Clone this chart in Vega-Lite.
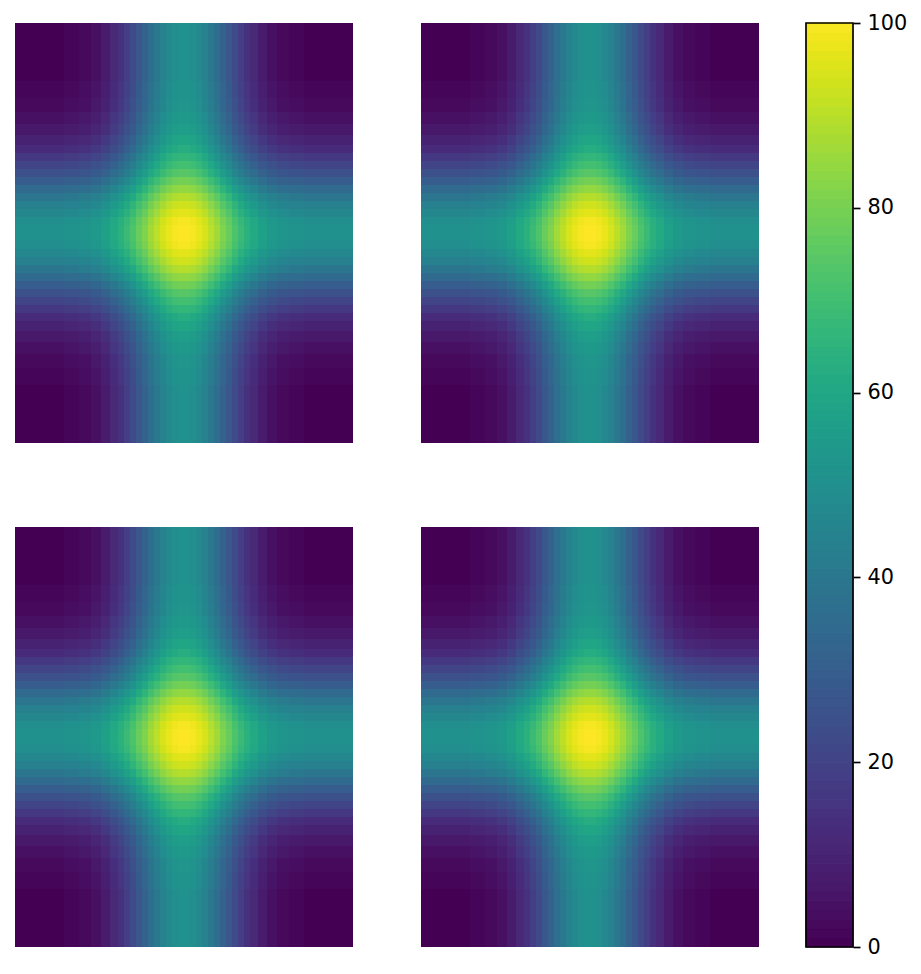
{"$schema":"https://vega.github.io/schema/vega-lite/v6.json","padding":{"left":15,"top":12,"right":0,"bottom":0},"background":"white","config":{"view":{"stroke":null},"font":"DejaVu Sans"},
"datasets":{
"cols":[{"i":0,"x":-169,"x2":-120},{"i":1,"x":-120,"x2":-105},{"i":2,"x":-105,"x2":-93},{"i":3,"x":-93,"x2":-83},{"i":4,"x":-83,"x2":-74},{"i":5,"x":-74,"x2":-66},{"i":6,"x":-66,"x2":-60},{"i":7,"x":-60,"x2":-54},{"i":8,"x":-54,"x2":-48},{"i":9,"x":-48,"x2":-42},{"i":10,"x":-42,"x2":-36},{"i":11,"x":-36,"x2":-30},{"i":12,"x":-30,"x2":-24},{"i":13,"x":-24,"x2":-18},{"i":14,"x":-18,"x2":-12},{"i":15,"x":-12,"x2":-6},{"i":16,"x":-6,"x2":0},{"i":17,"x":0,"x2":6},{"i":18,"x":6,"x2":12},{"i":19,"x":12,"x2":18},{"i":20,"x":18,"x2":24},{"i":21,"x":24,"x2":30},{"i":22,"x":30,"x2":36},{"i":23,"x":36,"x2":42},{"i":24,"x":42,"x2":48},{"i":25,"x":48,"x2":54},{"i":26,"x":54,"x2":60},{"i":27,"x":60,"x2":66},{"i":28,"x":66,"x2":74},{"i":29,"x":74,"x2":83},{"i":30,"x":83,"x2":93},{"i":31,"x":93,"x2":105},{"i":32,"x":105,"x2":120},{"i":33,"x":120,"x2":169}],
"rows":[{"j":0,"y":-210,"y2":-152},{"j":1,"y":-152,"y2":-135},{"j":2,"y":-135,"y2":-121},{"j":3,"y":-121,"y2":-109},{"j":4,"y":-109,"y2":-98},{"j":5,"y":-98,"y2":-88},{"j":6,"y":-88,"y2":-80},{"j":7,"y":-80,"y2":-72},{"j":8,"y":-72,"y2":-64},{"j":9,"y":-64,"y2":-56},{"j":10,"y":-56,"y2":-48},{"j":11,"y":-48,"y2":-40},{"j":12,"y":-40,"y2":-32},{"j":13,"y":-32,"y2":-24},{"j":14,"y":-24,"y2":-16},{"j":15,"y":-16,"y2":-8},{"j":16,"y":-8,"y2":0},{"j":17,"y":0,"y2":8},{"j":18,"y":8,"y2":16},{"j":19,"y":16,"y2":24},{"j":20,"y":24,"y2":32},{"j":21,"y":32,"y2":40},{"j":22,"y":40,"y2":48},{"j":23,"y":48,"y2":56},{"j":24,"y":56,"y2":64},{"j":25,"y":64,"y2":72},{"j":26,"y":72,"y2":80},{"j":27,"y":80,"y2":88},{"j":28,"y":88,"y2":98},{"j":29,"y":98,"y2":109},{"j":30,"y":109,"y2":121},{"j":31,"y":121,"y2":135},{"j":32,"y":135,"y2":152},{"j":33,"y":152,"y2":210}],
"grid":[
{"i":0,"j":0,"v":0},{"i":1,"j":0,"v":1},{"i":2,"j":0,"v":2},{"i":3,"j":0,"v":4},{"i":4,"j":0,"v":7},{"i":5,"j":0,"v":11},{"i":6,"j":0,"v":14},{"i":7,"j":0,"v":18},{"i":8,"j":0,"v":22},{"i":9,"j":0,"v":27},{"i":10,"j":0,"v":31},{"i":11,"j":0,"v":36},{"i":12,"j":0,"v":40},{"i":13,"j":0,"v":44},{"i":14,"j":0,"v":47},{"i":15,"j":0,"v":49},{"i":16,"j":0,"v":50},{"i":17,"j":0,"v":50},{"i":18,"j":0,"v":49},{"i":19,"j":0,"v":47},{"i":20,"j":0,"v":44},{"i":21,"j":0,"v":40},{"i":22,"j":0,"v":36},{"i":23,"j":0,"v":31},{"i":24,"j":0,"v":27},{"i":25,"j":0,"v":22},{"i":26,"j":0,"v":18},{"i":27,"j":0,"v":14},{"i":28,"j":0,"v":11},{"i":29,"j":0,"v":7},{"i":30,"j":0,"v":4},{"i":31,"j":0,"v":2},{"i":32,"j":0,"v":1},{"i":33,"j":0,"v":0},
{"i":0,"j":1,"v":1},{"i":1,"j":1,"v":2},{"i":2,"j":1,"v":3},{"i":3,"j":1,"v":5},{"i":4,"j":1,"v":8},{"i":5,"j":1,"v":12},{"i":6,"j":1,"v":15},{"i":7,"j":1,"v":19},{"i":8,"j":1,"v":23},{"i":9,"j":1,"v":28},{"i":10,"j":1,"v":32},{"i":11,"j":1,"v":37},{"i":12,"j":1,"v":41},{"i":13,"j":1,"v":45},{"i":14,"j":1,"v":48},{"i":15,"j":1,"v":50},{"i":16,"j":1,"v":51},{"i":17,"j":1,"v":51},{"i":18,"j":1,"v":50},{"i":19,"j":1,"v":48},{"i":20,"j":1,"v":45},{"i":21,"j":1,"v":41},{"i":22,"j":1,"v":37},{"i":23,"j":1,"v":32},{"i":24,"j":1,"v":28},{"i":25,"j":1,"v":23},{"i":26,"j":1,"v":19},{"i":27,"j":1,"v":15},{"i":28,"j":1,"v":12},{"i":29,"j":1,"v":8},{"i":30,"j":1,"v":5},{"i":31,"j":1,"v":3},{"i":32,"j":1,"v":2},{"i":33,"j":1,"v":1},
{"i":0,"j":2,"v":2},{"i":1,"j":2,"v":3},{"i":2,"j":2,"v":4},{"i":3,"j":2,"v":6},{"i":4,"j":2,"v":9},{"i":5,"j":2,"v":13},{"i":6,"j":2,"v":16},{"i":7,"j":2,"v":20},{"i":8,"j":2,"v":24},{"i":9,"j":2,"v":29},{"i":10,"j":2,"v":33},{"i":11,"j":2,"v":38},{"i":12,"j":2,"v":42},{"i":13,"j":2,"v":46},{"i":14,"j":2,"v":49},{"i":15,"j":2,"v":51},{"i":16,"j":2,"v":52},{"i":17,"j":2,"v":52},{"i":18,"j":2,"v":51},{"i":19,"j":2,"v":49},{"i":20,"j":2,"v":46},{"i":21,"j":2,"v":42},{"i":22,"j":2,"v":38},{"i":23,"j":2,"v":33},{"i":24,"j":2,"v":29},{"i":25,"j":2,"v":24},{"i":26,"j":2,"v":20},{"i":27,"j":2,"v":16},{"i":28,"j":2,"v":13},{"i":29,"j":2,"v":9},{"i":30,"j":2,"v":6},{"i":31,"j":2,"v":4},{"i":32,"j":2,"v":3},{"i":33,"j":2,"v":2},
{"i":0,"j":3,"v":4},{"i":1,"j":3,"v":5},{"i":2,"j":3,"v":6},{"i":3,"j":3,"v":8},{"i":4,"j":3,"v":11},{"i":5,"j":3,"v":15},{"i":6,"j":3,"v":18},{"i":7,"j":3,"v":22},{"i":8,"j":3,"v":26},{"i":9,"j":3,"v":31},{"i":10,"j":3,"v":35},{"i":11,"j":3,"v":40},{"i":12,"j":3,"v":44},{"i":13,"j":3,"v":48},{"i":14,"j":3,"v":51},{"i":15,"j":3,"v":53},{"i":16,"j":3,"v":54},{"i":17,"j":3,"v":54},{"i":18,"j":3,"v":53},{"i":19,"j":3,"v":51},{"i":20,"j":3,"v":48},{"i":21,"j":3,"v":44},{"i":22,"j":3,"v":40},{"i":23,"j":3,"v":35},{"i":24,"j":3,"v":31},{"i":25,"j":3,"v":26},{"i":26,"j":3,"v":22},{"i":27,"j":3,"v":18},{"i":28,"j":3,"v":15},{"i":29,"j":3,"v":11},{"i":30,"j":3,"v":8},{"i":31,"j":3,"v":6},{"i":32,"j":3,"v":5},{"i":33,"j":3,"v":4},
{"i":0,"j":4,"v":6},{"i":1,"j":4,"v":7},{"i":2,"j":4,"v":8},{"i":3,"j":4,"v":10},{"i":4,"j":4,"v":13},{"i":5,"j":4,"v":17},{"i":6,"j":4,"v":20},{"i":7,"j":4,"v":24},{"i":8,"j":4,"v":28},{"i":9,"j":4,"v":33},{"i":10,"j":4,"v":37},{"i":11,"j":4,"v":42},{"i":12,"j":4,"v":46},{"i":13,"j":4,"v":50},{"i":14,"j":4,"v":53},{"i":15,"j":4,"v":55},{"i":16,"j":4,"v":56},{"i":17,"j":4,"v":56},{"i":18,"j":4,"v":55},{"i":19,"j":4,"v":53},{"i":20,"j":4,"v":50},{"i":21,"j":4,"v":46},{"i":22,"j":4,"v":42},{"i":23,"j":4,"v":37},{"i":24,"j":4,"v":33},{"i":25,"j":4,"v":28},{"i":26,"j":4,"v":24},{"i":27,"j":4,"v":20},{"i":28,"j":4,"v":17},{"i":29,"j":4,"v":13},{"i":30,"j":4,"v":10},{"i":31,"j":4,"v":8},{"i":32,"j":4,"v":7},{"i":33,"j":4,"v":6},
{"i":0,"j":5,"v":9},{"i":1,"j":5,"v":10},{"i":2,"j":5,"v":11},{"i":3,"j":5,"v":13},{"i":4,"j":5,"v":16},{"i":5,"j":5,"v":20},{"i":6,"j":5,"v":23},{"i":7,"j":5,"v":27},{"i":8,"j":5,"v":31},{"i":9,"j":5,"v":36},{"i":10,"j":5,"v":40},{"i":11,"j":5,"v":45},{"i":12,"j":5,"v":49},{"i":13,"j":5,"v":53},{"i":14,"j":5,"v":56},{"i":15,"j":5,"v":58},{"i":16,"j":5,"v":59},{"i":17,"j":5,"v":59},{"i":18,"j":5,"v":58},{"i":19,"j":5,"v":56},{"i":20,"j":5,"v":53},{"i":21,"j":5,"v":49},{"i":22,"j":5,"v":45},{"i":23,"j":5,"v":40},{"i":24,"j":5,"v":36},{"i":25,"j":5,"v":31},{"i":26,"j":5,"v":27},{"i":27,"j":5,"v":23},{"i":28,"j":5,"v":20},{"i":29,"j":5,"v":16},{"i":30,"j":5,"v":13},{"i":31,"j":5,"v":11},{"i":32,"j":5,"v":10},{"i":33,"j":5,"v":9},
{"i":0,"j":6,"v":12},{"i":1,"j":6,"v":13},{"i":2,"j":6,"v":14},{"i":3,"j":6,"v":16},{"i":4,"j":6,"v":19},{"i":5,"j":6,"v":23},{"i":6,"j":6,"v":26},{"i":7,"j":6,"v":30},{"i":8,"j":6,"v":34},{"i":9,"j":6,"v":39},{"i":10,"j":6,"v":43},{"i":11,"j":6,"v":48},{"i":12,"j":6,"v":52},{"i":13,"j":6,"v":56},{"i":14,"j":6,"v":59},{"i":15,"j":6,"v":61},{"i":16,"j":6,"v":62},{"i":17,"j":6,"v":62},{"i":18,"j":6,"v":61},{"i":19,"j":6,"v":59},{"i":20,"j":6,"v":56},{"i":21,"j":6,"v":52},{"i":22,"j":6,"v":48},{"i":23,"j":6,"v":43},{"i":24,"j":6,"v":39},{"i":25,"j":6,"v":34},{"i":26,"j":6,"v":30},{"i":27,"j":6,"v":26},{"i":28,"j":6,"v":23},{"i":29,"j":6,"v":19},{"i":30,"j":6,"v":16},{"i":31,"j":6,"v":14},{"i":32,"j":6,"v":13},{"i":33,"j":6,"v":12},
{"i":0,"j":7,"v":16},{"i":1,"j":7,"v":17},{"i":2,"j":7,"v":18},{"i":3,"j":7,"v":20},{"i":4,"j":7,"v":23},{"i":5,"j":7,"v":27},{"i":6,"j":7,"v":30},{"i":7,"j":7,"v":34},{"i":8,"j":7,"v":38},{"i":9,"j":7,"v":43},{"i":10,"j":7,"v":47},{"i":11,"j":7,"v":52},{"i":12,"j":7,"v":56},{"i":13,"j":7,"v":60},{"i":14,"j":7,"v":63},{"i":15,"j":7,"v":65},{"i":16,"j":7,"v":66},{"i":17,"j":7,"v":66},{"i":18,"j":7,"v":65},{"i":19,"j":7,"v":63},{"i":20,"j":7,"v":60},{"i":21,"j":7,"v":56},{"i":22,"j":7,"v":52},{"i":23,"j":7,"v":47},{"i":24,"j":7,"v":43},{"i":25,"j":7,"v":38},{"i":26,"j":7,"v":34},{"i":27,"j":7,"v":30},{"i":28,"j":7,"v":27},{"i":29,"j":7,"v":23},{"i":30,"j":7,"v":20},{"i":31,"j":7,"v":18},{"i":32,"j":7,"v":17},{"i":33,"j":7,"v":16},
{"i":0,"j":8,"v":20},{"i":1,"j":8,"v":21},{"i":2,"j":8,"v":22},{"i":3,"j":8,"v":24},{"i":4,"j":8,"v":27},{"i":5,"j":8,"v":31},{"i":6,"j":8,"v":34},{"i":7,"j":8,"v":38},{"i":8,"j":8,"v":42},{"i":9,"j":8,"v":47},{"i":10,"j":8,"v":51},{"i":11,"j":8,"v":56},{"i":12,"j":8,"v":60},{"i":13,"j":8,"v":64},{"i":14,"j":8,"v":67},{"i":15,"j":8,"v":69},{"i":16,"j":8,"v":70},{"i":17,"j":8,"v":70},{"i":18,"j":8,"v":69},{"i":19,"j":8,"v":67},{"i":20,"j":8,"v":64},{"i":21,"j":8,"v":60},{"i":22,"j":8,"v":56},{"i":23,"j":8,"v":51},{"i":24,"j":8,"v":47},{"i":25,"j":8,"v":42},{"i":26,"j":8,"v":38},{"i":27,"j":8,"v":34},{"i":28,"j":8,"v":31},{"i":29,"j":8,"v":27},{"i":30,"j":8,"v":24},{"i":31,"j":8,"v":22},{"i":32,"j":8,"v":21},{"i":33,"j":8,"v":20},
{"i":0,"j":9,"v":24},{"i":1,"j":9,"v":25},{"i":2,"j":9,"v":26},{"i":3,"j":9,"v":28},{"i":4,"j":9,"v":31},{"i":5,"j":9,"v":35},{"i":6,"j":9,"v":38},{"i":7,"j":9,"v":42},{"i":8,"j":9,"v":46},{"i":9,"j":9,"v":51},{"i":10,"j":9,"v":55},{"i":11,"j":9,"v":60},{"i":12,"j":9,"v":64},{"i":13,"j":9,"v":68},{"i":14,"j":9,"v":71},{"i":15,"j":9,"v":73},{"i":16,"j":9,"v":74},{"i":17,"j":9,"v":74},{"i":18,"j":9,"v":73},{"i":19,"j":9,"v":71},{"i":20,"j":9,"v":68},{"i":21,"j":9,"v":64},{"i":22,"j":9,"v":60},{"i":23,"j":9,"v":55},{"i":24,"j":9,"v":51},{"i":25,"j":9,"v":46},{"i":26,"j":9,"v":42},{"i":27,"j":9,"v":38},{"i":28,"j":9,"v":35},{"i":29,"j":9,"v":31},{"i":30,"j":9,"v":28},{"i":31,"j":9,"v":26},{"i":32,"j":9,"v":25},{"i":33,"j":9,"v":24},
{"i":0,"j":10,"v":29},{"i":1,"j":10,"v":30},{"i":2,"j":10,"v":31},{"i":3,"j":10,"v":33},{"i":4,"j":10,"v":36},{"i":5,"j":10,"v":40},{"i":6,"j":10,"v":43},{"i":7,"j":10,"v":47},{"i":8,"j":10,"v":51},{"i":9,"j":10,"v":56},{"i":10,"j":10,"v":60},{"i":11,"j":10,"v":65},{"i":12,"j":10,"v":69},{"i":13,"j":10,"v":73},{"i":14,"j":10,"v":76},{"i":15,"j":10,"v":78},{"i":16,"j":10,"v":79},{"i":17,"j":10,"v":79},{"i":18,"j":10,"v":78},{"i":19,"j":10,"v":76},{"i":20,"j":10,"v":73},{"i":21,"j":10,"v":69},{"i":22,"j":10,"v":65},{"i":23,"j":10,"v":60},{"i":24,"j":10,"v":56},{"i":25,"j":10,"v":51},{"i":26,"j":10,"v":47},{"i":27,"j":10,"v":43},{"i":28,"j":10,"v":40},{"i":29,"j":10,"v":36},{"i":30,"j":10,"v":33},{"i":31,"j":10,"v":31},{"i":32,"j":10,"v":30},{"i":33,"j":10,"v":29},
{"i":0,"j":11,"v":34},{"i":1,"j":11,"v":35},{"i":2,"j":11,"v":36},{"i":3,"j":11,"v":38},{"i":4,"j":11,"v":41},{"i":5,"j":11,"v":45},{"i":6,"j":11,"v":48},{"i":7,"j":11,"v":52},{"i":8,"j":11,"v":56},{"i":9,"j":11,"v":61},{"i":10,"j":11,"v":65},{"i":11,"j":11,"v":70},{"i":12,"j":11,"v":74},{"i":13,"j":11,"v":78},{"i":14,"j":11,"v":81},{"i":15,"j":11,"v":83},{"i":16,"j":11,"v":84},{"i":17,"j":11,"v":84},{"i":18,"j":11,"v":83},{"i":19,"j":11,"v":81},{"i":20,"j":11,"v":78},{"i":21,"j":11,"v":74},{"i":22,"j":11,"v":70},{"i":23,"j":11,"v":65},{"i":24,"j":11,"v":61},{"i":25,"j":11,"v":56},{"i":26,"j":11,"v":52},{"i":27,"j":11,"v":48},{"i":28,"j":11,"v":45},{"i":29,"j":11,"v":41},{"i":30,"j":11,"v":38},{"i":31,"j":11,"v":36},{"i":32,"j":11,"v":35},{"i":33,"j":11,"v":34},
{"i":0,"j":12,"v":39},{"i":1,"j":12,"v":40},{"i":2,"j":12,"v":41},{"i":3,"j":12,"v":43},{"i":4,"j":12,"v":46},{"i":5,"j":12,"v":50},{"i":6,"j":12,"v":53},{"i":7,"j":12,"v":57},{"i":8,"j":12,"v":61},{"i":9,"j":12,"v":66},{"i":10,"j":12,"v":70},{"i":11,"j":12,"v":75},{"i":12,"j":12,"v":79},{"i":13,"j":12,"v":83},{"i":14,"j":12,"v":86},{"i":15,"j":12,"v":88},{"i":16,"j":12,"v":89},{"i":17,"j":12,"v":89},{"i":18,"j":12,"v":88},{"i":19,"j":12,"v":86},{"i":20,"j":12,"v":83},{"i":21,"j":12,"v":79},{"i":22,"j":12,"v":75},{"i":23,"j":12,"v":70},{"i":24,"j":12,"v":66},{"i":25,"j":12,"v":61},{"i":26,"j":12,"v":57},{"i":27,"j":12,"v":53},{"i":28,"j":12,"v":50},{"i":29,"j":12,"v":46},{"i":30,"j":12,"v":43},{"i":31,"j":12,"v":41},{"i":32,"j":12,"v":40},{"i":33,"j":12,"v":39},
{"i":0,"j":13,"v":43},{"i":1,"j":13,"v":44},{"i":2,"j":13,"v":45},{"i":3,"j":13,"v":47},{"i":4,"j":13,"v":50},{"i":5,"j":13,"v":54},{"i":6,"j":13,"v":57},{"i":7,"j":13,"v":61},{"i":8,"j":13,"v":65},{"i":9,"j":13,"v":70},{"i":10,"j":13,"v":74},{"i":11,"j":13,"v":79},{"i":12,"j":13,"v":83},{"i":13,"j":13,"v":87},{"i":14,"j":13,"v":90},{"i":15,"j":13,"v":92},{"i":16,"j":13,"v":93},{"i":17,"j":13,"v":93},{"i":18,"j":13,"v":92},{"i":19,"j":13,"v":90},{"i":20,"j":13,"v":87},{"i":21,"j":13,"v":83},{"i":22,"j":13,"v":79},{"i":23,"j":13,"v":74},{"i":24,"j":13,"v":70},{"i":25,"j":13,"v":65},{"i":26,"j":13,"v":61},{"i":27,"j":13,"v":57},{"i":28,"j":13,"v":54},{"i":29,"j":13,"v":50},{"i":30,"j":13,"v":47},{"i":31,"j":13,"v":45},{"i":32,"j":13,"v":44},{"i":33,"j":13,"v":43},
{"i":0,"j":14,"v":46},{"i":1,"j":14,"v":47},{"i":2,"j":14,"v":48},{"i":3,"j":14,"v":50},{"i":4,"j":14,"v":53},{"i":5,"j":14,"v":57},{"i":6,"j":14,"v":60},{"i":7,"j":14,"v":64},{"i":8,"j":14,"v":68},{"i":9,"j":14,"v":73},{"i":10,"j":14,"v":77},{"i":11,"j":14,"v":82},{"i":12,"j":14,"v":86},{"i":13,"j":14,"v":90},{"i":14,"j":14,"v":93},{"i":15,"j":14,"v":95},{"i":16,"j":14,"v":96},{"i":17,"j":14,"v":96},{"i":18,"j":14,"v":95},{"i":19,"j":14,"v":93},{"i":20,"j":14,"v":90},{"i":21,"j":14,"v":86},{"i":22,"j":14,"v":82},{"i":23,"j":14,"v":77},{"i":24,"j":14,"v":73},{"i":25,"j":14,"v":68},{"i":26,"j":14,"v":64},{"i":27,"j":14,"v":60},{"i":28,"j":14,"v":57},{"i":29,"j":14,"v":53},{"i":30,"j":14,"v":50},{"i":31,"j":14,"v":48},{"i":32,"j":14,"v":47},{"i":33,"j":14,"v":46},
{"i":0,"j":15,"v":49},{"i":1,"j":15,"v":50},{"i":2,"j":15,"v":51},{"i":3,"j":15,"v":53},{"i":4,"j":15,"v":56},{"i":5,"j":15,"v":60},{"i":6,"j":15,"v":63},{"i":7,"j":15,"v":67},{"i":8,"j":15,"v":71},{"i":9,"j":15,"v":76},{"i":10,"j":15,"v":80},{"i":11,"j":15,"v":85},{"i":12,"j":15,"v":89},{"i":13,"j":15,"v":93},{"i":14,"j":15,"v":96},{"i":15,"j":15,"v":98},{"i":16,"j":15,"v":99},{"i":17,"j":15,"v":99},{"i":18,"j":15,"v":98},{"i":19,"j":15,"v":96},{"i":20,"j":15,"v":93},{"i":21,"j":15,"v":89},{"i":22,"j":15,"v":85},{"i":23,"j":15,"v":80},{"i":24,"j":15,"v":76},{"i":25,"j":15,"v":71},{"i":26,"j":15,"v":67},{"i":27,"j":15,"v":63},{"i":28,"j":15,"v":60},{"i":29,"j":15,"v":56},{"i":30,"j":15,"v":53},{"i":31,"j":15,"v":51},{"i":32,"j":15,"v":50},{"i":33,"j":15,"v":49},
{"i":0,"j":16,"v":50},{"i":1,"j":16,"v":51},{"i":2,"j":16,"v":52},{"i":3,"j":16,"v":54},{"i":4,"j":16,"v":57},{"i":5,"j":16,"v":61},{"i":6,"j":16,"v":64},{"i":7,"j":16,"v":68},{"i":8,"j":16,"v":72},{"i":9,"j":16,"v":77},{"i":10,"j":16,"v":81},{"i":11,"j":16,"v":86},{"i":12,"j":16,"v":90},{"i":13,"j":16,"v":94},{"i":14,"j":16,"v":97},{"i":15,"j":16,"v":99},{"i":16,"j":16,"v":100},{"i":17,"j":16,"v":100},{"i":18,"j":16,"v":99},{"i":19,"j":16,"v":97},{"i":20,"j":16,"v":94},{"i":21,"j":16,"v":90},{"i":22,"j":16,"v":86},{"i":23,"j":16,"v":81},{"i":24,"j":16,"v":77},{"i":25,"j":16,"v":72},{"i":26,"j":16,"v":68},{"i":27,"j":16,"v":64},{"i":28,"j":16,"v":61},{"i":29,"j":16,"v":57},{"i":30,"j":16,"v":54},{"i":31,"j":16,"v":52},{"i":32,"j":16,"v":51},{"i":33,"j":16,"v":50},
{"i":0,"j":17,"v":50},{"i":1,"j":17,"v":51},{"i":2,"j":17,"v":52},{"i":3,"j":17,"v":54},{"i":4,"j":17,"v":57},{"i":5,"j":17,"v":61},{"i":6,"j":17,"v":64},{"i":7,"j":17,"v":68},{"i":8,"j":17,"v":72},{"i":9,"j":17,"v":77},{"i":10,"j":17,"v":81},{"i":11,"j":17,"v":86},{"i":12,"j":17,"v":90},{"i":13,"j":17,"v":94},{"i":14,"j":17,"v":97},{"i":15,"j":17,"v":99},{"i":16,"j":17,"v":100},{"i":17,"j":17,"v":100},{"i":18,"j":17,"v":99},{"i":19,"j":17,"v":97},{"i":20,"j":17,"v":94},{"i":21,"j":17,"v":90},{"i":22,"j":17,"v":86},{"i":23,"j":17,"v":81},{"i":24,"j":17,"v":77},{"i":25,"j":17,"v":72},{"i":26,"j":17,"v":68},{"i":27,"j":17,"v":64},{"i":28,"j":17,"v":61},{"i":29,"j":17,"v":57},{"i":30,"j":17,"v":54},{"i":31,"j":17,"v":52},{"i":32,"j":17,"v":51},{"i":33,"j":17,"v":50},
{"i":0,"j":18,"v":49},{"i":1,"j":18,"v":50},{"i":2,"j":18,"v":51},{"i":3,"j":18,"v":53},{"i":4,"j":18,"v":56},{"i":5,"j":18,"v":60},{"i":6,"j":18,"v":63},{"i":7,"j":18,"v":67},{"i":8,"j":18,"v":71},{"i":9,"j":18,"v":76},{"i":10,"j":18,"v":80},{"i":11,"j":18,"v":85},{"i":12,"j":18,"v":89},{"i":13,"j":18,"v":93},{"i":14,"j":18,"v":96},{"i":15,"j":18,"v":98},{"i":16,"j":18,"v":99},{"i":17,"j":18,"v":99},{"i":18,"j":18,"v":98},{"i":19,"j":18,"v":96},{"i":20,"j":18,"v":93},{"i":21,"j":18,"v":89},{"i":22,"j":18,"v":85},{"i":23,"j":18,"v":80},{"i":24,"j":18,"v":76},{"i":25,"j":18,"v":71},{"i":26,"j":18,"v":67},{"i":27,"j":18,"v":63},{"i":28,"j":18,"v":60},{"i":29,"j":18,"v":56},{"i":30,"j":18,"v":53},{"i":31,"j":18,"v":51},{"i":32,"j":18,"v":50},{"i":33,"j":18,"v":49},
{"i":0,"j":19,"v":46},{"i":1,"j":19,"v":47},{"i":2,"j":19,"v":48},{"i":3,"j":19,"v":50},{"i":4,"j":19,"v":53},{"i":5,"j":19,"v":57},{"i":6,"j":19,"v":60},{"i":7,"j":19,"v":64},{"i":8,"j":19,"v":68},{"i":9,"j":19,"v":73},{"i":10,"j":19,"v":77},{"i":11,"j":19,"v":82},{"i":12,"j":19,"v":86},{"i":13,"j":19,"v":90},{"i":14,"j":19,"v":93},{"i":15,"j":19,"v":95},{"i":16,"j":19,"v":96},{"i":17,"j":19,"v":96},{"i":18,"j":19,"v":95},{"i":19,"j":19,"v":93},{"i":20,"j":19,"v":90},{"i":21,"j":19,"v":86},{"i":22,"j":19,"v":82},{"i":23,"j":19,"v":77},{"i":24,"j":19,"v":73},{"i":25,"j":19,"v":68},{"i":26,"j":19,"v":64},{"i":27,"j":19,"v":60},{"i":28,"j":19,"v":57},{"i":29,"j":19,"v":53},{"i":30,"j":19,"v":50},{"i":31,"j":19,"v":48},{"i":32,"j":19,"v":47},{"i":33,"j":19,"v":46},
{"i":0,"j":20,"v":43},{"i":1,"j":20,"v":44},{"i":2,"j":20,"v":45},{"i":3,"j":20,"v":47},{"i":4,"j":20,"v":50},{"i":5,"j":20,"v":54},{"i":6,"j":20,"v":57},{"i":7,"j":20,"v":61},{"i":8,"j":20,"v":65},{"i":9,"j":20,"v":70},{"i":10,"j":20,"v":74},{"i":11,"j":20,"v":79},{"i":12,"j":20,"v":83},{"i":13,"j":20,"v":87},{"i":14,"j":20,"v":90},{"i":15,"j":20,"v":92},{"i":16,"j":20,"v":93},{"i":17,"j":20,"v":93},{"i":18,"j":20,"v":92},{"i":19,"j":20,"v":90},{"i":20,"j":20,"v":87},{"i":21,"j":20,"v":83},{"i":22,"j":20,"v":79},{"i":23,"j":20,"v":74},{"i":24,"j":20,"v":70},{"i":25,"j":20,"v":65},{"i":26,"j":20,"v":61},{"i":27,"j":20,"v":57},{"i":28,"j":20,"v":54},{"i":29,"j":20,"v":50},{"i":30,"j":20,"v":47},{"i":31,"j":20,"v":45},{"i":32,"j":20,"v":44},{"i":33,"j":20,"v":43},
{"i":0,"j":21,"v":39},{"i":1,"j":21,"v":40},{"i":2,"j":21,"v":41},{"i":3,"j":21,"v":43},{"i":4,"j":21,"v":46},{"i":5,"j":21,"v":50},{"i":6,"j":21,"v":53},{"i":7,"j":21,"v":57},{"i":8,"j":21,"v":61},{"i":9,"j":21,"v":66},{"i":10,"j":21,"v":70},{"i":11,"j":21,"v":75},{"i":12,"j":21,"v":79},{"i":13,"j":21,"v":83},{"i":14,"j":21,"v":86},{"i":15,"j":21,"v":88},{"i":16,"j":21,"v":89},{"i":17,"j":21,"v":89},{"i":18,"j":21,"v":88},{"i":19,"j":21,"v":86},{"i":20,"j":21,"v":83},{"i":21,"j":21,"v":79},{"i":22,"j":21,"v":75},{"i":23,"j":21,"v":70},{"i":24,"j":21,"v":66},{"i":25,"j":21,"v":61},{"i":26,"j":21,"v":57},{"i":27,"j":21,"v":53},{"i":28,"j":21,"v":50},{"i":29,"j":21,"v":46},{"i":30,"j":21,"v":43},{"i":31,"j":21,"v":41},{"i":32,"j":21,"v":40},{"i":33,"j":21,"v":39},
{"i":0,"j":22,"v":34},{"i":1,"j":22,"v":35},{"i":2,"j":22,"v":36},{"i":3,"j":22,"v":38},{"i":4,"j":22,"v":41},{"i":5,"j":22,"v":45},{"i":6,"j":22,"v":48},{"i":7,"j":22,"v":52},{"i":8,"j":22,"v":56},{"i":9,"j":22,"v":61},{"i":10,"j":22,"v":65},{"i":11,"j":22,"v":70},{"i":12,"j":22,"v":74},{"i":13,"j":22,"v":78},{"i":14,"j":22,"v":81},{"i":15,"j":22,"v":83},{"i":16,"j":22,"v":84},{"i":17,"j":22,"v":84},{"i":18,"j":22,"v":83},{"i":19,"j":22,"v":81},{"i":20,"j":22,"v":78},{"i":21,"j":22,"v":74},{"i":22,"j":22,"v":70},{"i":23,"j":22,"v":65},{"i":24,"j":22,"v":61},{"i":25,"j":22,"v":56},{"i":26,"j":22,"v":52},{"i":27,"j":22,"v":48},{"i":28,"j":22,"v":45},{"i":29,"j":22,"v":41},{"i":30,"j":22,"v":38},{"i":31,"j":22,"v":36},{"i":32,"j":22,"v":35},{"i":33,"j":22,"v":34},
{"i":0,"j":23,"v":29},{"i":1,"j":23,"v":30},{"i":2,"j":23,"v":31},{"i":3,"j":23,"v":33},{"i":4,"j":23,"v":36},{"i":5,"j":23,"v":40},{"i":6,"j":23,"v":43},{"i":7,"j":23,"v":47},{"i":8,"j":23,"v":51},{"i":9,"j":23,"v":56},{"i":10,"j":23,"v":60},{"i":11,"j":23,"v":65},{"i":12,"j":23,"v":69},{"i":13,"j":23,"v":73},{"i":14,"j":23,"v":76},{"i":15,"j":23,"v":78},{"i":16,"j":23,"v":79},{"i":17,"j":23,"v":79},{"i":18,"j":23,"v":78},{"i":19,"j":23,"v":76},{"i":20,"j":23,"v":73},{"i":21,"j":23,"v":69},{"i":22,"j":23,"v":65},{"i":23,"j":23,"v":60},{"i":24,"j":23,"v":56},{"i":25,"j":23,"v":51},{"i":26,"j":23,"v":47},{"i":27,"j":23,"v":43},{"i":28,"j":23,"v":40},{"i":29,"j":23,"v":36},{"i":30,"j":23,"v":33},{"i":31,"j":23,"v":31},{"i":32,"j":23,"v":30},{"i":33,"j":23,"v":29},
{"i":0,"j":24,"v":24},{"i":1,"j":24,"v":25},{"i":2,"j":24,"v":26},{"i":3,"j":24,"v":28},{"i":4,"j":24,"v":31},{"i":5,"j":24,"v":35},{"i":6,"j":24,"v":38},{"i":7,"j":24,"v":42},{"i":8,"j":24,"v":46},{"i":9,"j":24,"v":51},{"i":10,"j":24,"v":55},{"i":11,"j":24,"v":60},{"i":12,"j":24,"v":64},{"i":13,"j":24,"v":68},{"i":14,"j":24,"v":71},{"i":15,"j":24,"v":73},{"i":16,"j":24,"v":74},{"i":17,"j":24,"v":74},{"i":18,"j":24,"v":73},{"i":19,"j":24,"v":71},{"i":20,"j":24,"v":68},{"i":21,"j":24,"v":64},{"i":22,"j":24,"v":60},{"i":23,"j":24,"v":55},{"i":24,"j":24,"v":51},{"i":25,"j":24,"v":46},{"i":26,"j":24,"v":42},{"i":27,"j":24,"v":38},{"i":28,"j":24,"v":35},{"i":29,"j":24,"v":31},{"i":30,"j":24,"v":28},{"i":31,"j":24,"v":26},{"i":32,"j":24,"v":25},{"i":33,"j":24,"v":24},
{"i":0,"j":25,"v":20},{"i":1,"j":25,"v":21},{"i":2,"j":25,"v":22},{"i":3,"j":25,"v":24},{"i":4,"j":25,"v":27},{"i":5,"j":25,"v":31},{"i":6,"j":25,"v":34},{"i":7,"j":25,"v":38},{"i":8,"j":25,"v":42},{"i":9,"j":25,"v":47},{"i":10,"j":25,"v":51},{"i":11,"j":25,"v":56},{"i":12,"j":25,"v":60},{"i":13,"j":25,"v":64},{"i":14,"j":25,"v":67},{"i":15,"j":25,"v":69},{"i":16,"j":25,"v":70},{"i":17,"j":25,"v":70},{"i":18,"j":25,"v":69},{"i":19,"j":25,"v":67},{"i":20,"j":25,"v":64},{"i":21,"j":25,"v":60},{"i":22,"j":25,"v":56},{"i":23,"j":25,"v":51},{"i":24,"j":25,"v":47},{"i":25,"j":25,"v":42},{"i":26,"j":25,"v":38},{"i":27,"j":25,"v":34},{"i":28,"j":25,"v":31},{"i":29,"j":25,"v":27},{"i":30,"j":25,"v":24},{"i":31,"j":25,"v":22},{"i":32,"j":25,"v":21},{"i":33,"j":25,"v":20},
{"i":0,"j":26,"v":16},{"i":1,"j":26,"v":17},{"i":2,"j":26,"v":18},{"i":3,"j":26,"v":20},{"i":4,"j":26,"v":23},{"i":5,"j":26,"v":27},{"i":6,"j":26,"v":30},{"i":7,"j":26,"v":34},{"i":8,"j":26,"v":38},{"i":9,"j":26,"v":43},{"i":10,"j":26,"v":47},{"i":11,"j":26,"v":52},{"i":12,"j":26,"v":56},{"i":13,"j":26,"v":60},{"i":14,"j":26,"v":63},{"i":15,"j":26,"v":65},{"i":16,"j":26,"v":66},{"i":17,"j":26,"v":66},{"i":18,"j":26,"v":65},{"i":19,"j":26,"v":63},{"i":20,"j":26,"v":60},{"i":21,"j":26,"v":56},{"i":22,"j":26,"v":52},{"i":23,"j":26,"v":47},{"i":24,"j":26,"v":43},{"i":25,"j":26,"v":38},{"i":26,"j":26,"v":34},{"i":27,"j":26,"v":30},{"i":28,"j":26,"v":27},{"i":29,"j":26,"v":23},{"i":30,"j":26,"v":20},{"i":31,"j":26,"v":18},{"i":32,"j":26,"v":17},{"i":33,"j":26,"v":16},
{"i":0,"j":27,"v":12},{"i":1,"j":27,"v":13},{"i":2,"j":27,"v":14},{"i":3,"j":27,"v":16},{"i":4,"j":27,"v":19},{"i":5,"j":27,"v":23},{"i":6,"j":27,"v":26},{"i":7,"j":27,"v":30},{"i":8,"j":27,"v":34},{"i":9,"j":27,"v":39},{"i":10,"j":27,"v":43},{"i":11,"j":27,"v":48},{"i":12,"j":27,"v":52},{"i":13,"j":27,"v":56},{"i":14,"j":27,"v":59},{"i":15,"j":27,"v":61},{"i":16,"j":27,"v":62},{"i":17,"j":27,"v":62},{"i":18,"j":27,"v":61},{"i":19,"j":27,"v":59},{"i":20,"j":27,"v":56},{"i":21,"j":27,"v":52},{"i":22,"j":27,"v":48},{"i":23,"j":27,"v":43},{"i":24,"j":27,"v":39},{"i":25,"j":27,"v":34},{"i":26,"j":27,"v":30},{"i":27,"j":27,"v":26},{"i":28,"j":27,"v":23},{"i":29,"j":27,"v":19},{"i":30,"j":27,"v":16},{"i":31,"j":27,"v":14},{"i":32,"j":27,"v":13},{"i":33,"j":27,"v":12},
{"i":0,"j":28,"v":9},{"i":1,"j":28,"v":10},{"i":2,"j":28,"v":11},{"i":3,"j":28,"v":13},{"i":4,"j":28,"v":16},{"i":5,"j":28,"v":20},{"i":6,"j":28,"v":23},{"i":7,"j":28,"v":27},{"i":8,"j":28,"v":31},{"i":9,"j":28,"v":36},{"i":10,"j":28,"v":40},{"i":11,"j":28,"v":45},{"i":12,"j":28,"v":49},{"i":13,"j":28,"v":53},{"i":14,"j":28,"v":56},{"i":15,"j":28,"v":58},{"i":16,"j":28,"v":59},{"i":17,"j":28,"v":59},{"i":18,"j":28,"v":58},{"i":19,"j":28,"v":56},{"i":20,"j":28,"v":53},{"i":21,"j":28,"v":49},{"i":22,"j":28,"v":45},{"i":23,"j":28,"v":40},{"i":24,"j":28,"v":36},{"i":25,"j":28,"v":31},{"i":26,"j":28,"v":27},{"i":27,"j":28,"v":23},{"i":28,"j":28,"v":20},{"i":29,"j":28,"v":16},{"i":30,"j":28,"v":13},{"i":31,"j":28,"v":11},{"i":32,"j":28,"v":10},{"i":33,"j":28,"v":9},
{"i":0,"j":29,"v":6},{"i":1,"j":29,"v":7},{"i":2,"j":29,"v":8},{"i":3,"j":29,"v":10},{"i":4,"j":29,"v":13},{"i":5,"j":29,"v":17},{"i":6,"j":29,"v":20},{"i":7,"j":29,"v":24},{"i":8,"j":29,"v":28},{"i":9,"j":29,"v":33},{"i":10,"j":29,"v":37},{"i":11,"j":29,"v":42},{"i":12,"j":29,"v":46},{"i":13,"j":29,"v":50},{"i":14,"j":29,"v":53},{"i":15,"j":29,"v":55},{"i":16,"j":29,"v":56},{"i":17,"j":29,"v":56},{"i":18,"j":29,"v":55},{"i":19,"j":29,"v":53},{"i":20,"j":29,"v":50},{"i":21,"j":29,"v":46},{"i":22,"j":29,"v":42},{"i":23,"j":29,"v":37},{"i":24,"j":29,"v":33},{"i":25,"j":29,"v":28},{"i":26,"j":29,"v":24},{"i":27,"j":29,"v":20},{"i":28,"j":29,"v":17},{"i":29,"j":29,"v":13},{"i":30,"j":29,"v":10},{"i":31,"j":29,"v":8},{"i":32,"j":29,"v":7},{"i":33,"j":29,"v":6},
{"i":0,"j":30,"v":4},{"i":1,"j":30,"v":5},{"i":2,"j":30,"v":6},{"i":3,"j":30,"v":8},{"i":4,"j":30,"v":11},{"i":5,"j":30,"v":15},{"i":6,"j":30,"v":18},{"i":7,"j":30,"v":22},{"i":8,"j":30,"v":26},{"i":9,"j":30,"v":31},{"i":10,"j":30,"v":35},{"i":11,"j":30,"v":40},{"i":12,"j":30,"v":44},{"i":13,"j":30,"v":48},{"i":14,"j":30,"v":51},{"i":15,"j":30,"v":53},{"i":16,"j":30,"v":54},{"i":17,"j":30,"v":54},{"i":18,"j":30,"v":53},{"i":19,"j":30,"v":51},{"i":20,"j":30,"v":48},{"i":21,"j":30,"v":44},{"i":22,"j":30,"v":40},{"i":23,"j":30,"v":35},{"i":24,"j":30,"v":31},{"i":25,"j":30,"v":26},{"i":26,"j":30,"v":22},{"i":27,"j":30,"v":18},{"i":28,"j":30,"v":15},{"i":29,"j":30,"v":11},{"i":30,"j":30,"v":8},{"i":31,"j":30,"v":6},{"i":32,"j":30,"v":5},{"i":33,"j":30,"v":4},
{"i":0,"j":31,"v":2},{"i":1,"j":31,"v":3},{"i":2,"j":31,"v":4},{"i":3,"j":31,"v":6},{"i":4,"j":31,"v":9},{"i":5,"j":31,"v":13},{"i":6,"j":31,"v":16},{"i":7,"j":31,"v":20},{"i":8,"j":31,"v":24},{"i":9,"j":31,"v":29},{"i":10,"j":31,"v":33},{"i":11,"j":31,"v":38},{"i":12,"j":31,"v":42},{"i":13,"j":31,"v":46},{"i":14,"j":31,"v":49},{"i":15,"j":31,"v":51},{"i":16,"j":31,"v":52},{"i":17,"j":31,"v":52},{"i":18,"j":31,"v":51},{"i":19,"j":31,"v":49},{"i":20,"j":31,"v":46},{"i":21,"j":31,"v":42},{"i":22,"j":31,"v":38},{"i":23,"j":31,"v":33},{"i":24,"j":31,"v":29},{"i":25,"j":31,"v":24},{"i":26,"j":31,"v":20},{"i":27,"j":31,"v":16},{"i":28,"j":31,"v":13},{"i":29,"j":31,"v":9},{"i":30,"j":31,"v":6},{"i":31,"j":31,"v":4},{"i":32,"j":31,"v":3},{"i":33,"j":31,"v":2},
{"i":0,"j":32,"v":1},{"i":1,"j":32,"v":2},{"i":2,"j":32,"v":3},{"i":3,"j":32,"v":5},{"i":4,"j":32,"v":8},{"i":5,"j":32,"v":12},{"i":6,"j":32,"v":15},{"i":7,"j":32,"v":19},{"i":8,"j":32,"v":23},{"i":9,"j":32,"v":28},{"i":10,"j":32,"v":32},{"i":11,"j":32,"v":37},{"i":12,"j":32,"v":41},{"i":13,"j":32,"v":45},{"i":14,"j":32,"v":48},{"i":15,"j":32,"v":50},{"i":16,"j":32,"v":51},{"i":17,"j":32,"v":51},{"i":18,"j":32,"v":50},{"i":19,"j":32,"v":48},{"i":20,"j":32,"v":45},{"i":21,"j":32,"v":41},{"i":22,"j":32,"v":37},{"i":23,"j":32,"v":32},{"i":24,"j":32,"v":28},{"i":25,"j":32,"v":23},{"i":26,"j":32,"v":19},{"i":27,"j":32,"v":15},{"i":28,"j":32,"v":12},{"i":29,"j":32,"v":8},{"i":30,"j":32,"v":5},{"i":31,"j":32,"v":3},{"i":32,"j":32,"v":2},{"i":33,"j":32,"v":1},
{"i":0,"j":33,"v":0},{"i":1,"j":33,"v":1},{"i":2,"j":33,"v":2},{"i":3,"j":33,"v":4},{"i":4,"j":33,"v":7},{"i":5,"j":33,"v":11},{"i":6,"j":33,"v":14},{"i":7,"j":33,"v":18},{"i":8,"j":33,"v":22},{"i":9,"j":33,"v":27},{"i":10,"j":33,"v":31},{"i":11,"j":33,"v":36},{"i":12,"j":33,"v":40},{"i":13,"j":33,"v":44},{"i":14,"j":33,"v":47},{"i":15,"j":33,"v":49},{"i":16,"j":33,"v":50},{"i":17,"j":33,"v":50},{"i":18,"j":33,"v":49},{"i":19,"j":33,"v":47},{"i":20,"j":33,"v":44},{"i":21,"j":33,"v":40},{"i":22,"j":33,"v":36},{"i":23,"j":33,"v":31},{"i":24,"j":33,"v":27},{"i":25,"j":33,"v":22},{"i":26,"j":33,"v":18},{"i":27,"j":33,"v":14},{"i":28,"j":33,"v":11},{"i":29,"j":33,"v":7},{"i":30,"j":33,"v":4},{"i":31,"j":33,"v":2},{"i":32,"j":33,"v":1},{"i":33,"j":33,"v":0}
],
"bar":[{"lo":0,"hi":1},{"lo":1,"hi":2},{"lo":2,"hi":3},{"lo":3,"hi":4},{"lo":4,"hi":5},{"lo":5,"hi":6},{"lo":6,"hi":7},{"lo":7,"hi":8},{"lo":8,"hi":9},{"lo":9,"hi":10},{"lo":10,"hi":11},{"lo":11,"hi":12},{"lo":12,"hi":13},{"lo":13,"hi":14},{"lo":14,"hi":15},{"lo":15,"hi":16},{"lo":16,"hi":17},{"lo":17,"hi":18},{"lo":18,"hi":19},{"lo":19,"hi":20},{"lo":20,"hi":21},{"lo":21,"hi":22},{"lo":22,"hi":23},{"lo":23,"hi":24},{"lo":24,"hi":25},{"lo":25,"hi":26},{"lo":26,"hi":27},{"lo":27,"hi":28},{"lo":28,"hi":29},{"lo":29,"hi":30},{"lo":30,"hi":31},{"lo":31,"hi":32},{"lo":32,"hi":33},{"lo":33,"hi":34},{"lo":34,"hi":35},{"lo":35,"hi":36},{"lo":36,"hi":37},{"lo":37,"hi":38},{"lo":38,"hi":39},{"lo":39,"hi":40},{"lo":40,"hi":41},{"lo":41,"hi":42},{"lo":42,"hi":43},{"lo":43,"hi":44},{"lo":44,"hi":45},{"lo":45,"hi":46},{"lo":46,"hi":47},{"lo":47,"hi":48},{"lo":48,"hi":49},{"lo":49,"hi":50},{"lo":50,"hi":51},{"lo":51,"hi":52},{"lo":52,"hi":53},{"lo":53,"hi":54},{"lo":54,"hi":55},{"lo":55,"hi":56},{"lo":56,"hi":57},{"lo":57,"hi":58},{"lo":58,"hi":59},{"lo":59,"hi":60},{"lo":60,"hi":61},{"lo":61,"hi":62},{"lo":62,"hi":63},{"lo":63,"hi":64},{"lo":64,"hi":65},{"lo":65,"hi":66},{"lo":66,"hi":67},{"lo":67,"hi":68},{"lo":68,"hi":69},{"lo":69,"hi":70},{"lo":70,"hi":71},{"lo":71,"hi":72},{"lo":72,"hi":73},{"lo":73,"hi":74},{"lo":74,"hi":75},{"lo":75,"hi":76},{"lo":76,"hi":77},{"lo":77,"hi":78},{"lo":78,"hi":79},{"lo":79,"hi":80},{"lo":80,"hi":81},{"lo":81,"hi":82},{"lo":82,"hi":83},{"lo":83,"hi":84},{"lo":84,"hi":85},{"lo":85,"hi":86},{"lo":86,"hi":87},{"lo":87,"hi":88},{"lo":88,"hi":89},{"lo":89,"hi":90},{"lo":90,"hi":91},{"lo":91,"hi":92},{"lo":92,"hi":93},{"lo":93,"hi":94},{"lo":94,"hi":95},{"lo":95,"hi":96},{"lo":96,"hi":97},{"lo":97,"hi":98},{"lo":98,"hi":99},{"lo":99,"hi":100}],
"frame":[{"lo":0,"hi":100}]},
"hconcat":[{"data":{"name":"grid"},"transform":[{"lookup":"i","from":{"data":{"name":"cols"},"key":"i","fields":["x","x2"]}},{"lookup":"j","from":{"data":{"name":"rows"},"key":"j","fields":["y","y2"]}}],"hconcat":[{"vconcat":[
{"width":338,"height":420,"mark":"rect","encoding":{"x":{"field":"x","type":"quantitative","axis":null,"scale":{"domain":[-169,169],"nice":false}},"x2":{"field":"x2"},"y":{"field":"y","type":"quantitative","axis":null,"scale":{"domain":[-210,210],"nice":false}},"y2":{"field":"y2"},"color":{"field":"v","type":"quantitative","legend":null,"scale":{"scheme":"viridis","domain":[0,100]}}}},
{"width":338,"height":420,"mark":"rect","encoding":{"x":{"field":"x","type":"quantitative","axis":null,"scale":{"domain":[-169,169],"nice":false}},"x2":{"field":"x2"},"y":{"field":"y","type":"quantitative","axis":null,"scale":{"domain":[-210,210],"nice":false}},"y2":{"field":"y2"},"color":{"field":"v","type":"quantitative","legend":null,"scale":{"scheme":"viridis","domain":[0,100]}}}}
],"spacing":84},{"vconcat":[
{"width":338,"height":420,"mark":"rect","encoding":{"x":{"field":"x","type":"quantitative","axis":null,"scale":{"domain":[-169,169],"nice":false}},"x2":{"field":"x2"},"y":{"field":"y","type":"quantitative","axis":null,"scale":{"domain":[-210,210],"nice":false}},"y2":{"field":"y2"},"color":{"field":"v","type":"quantitative","legend":null,"scale":{"scheme":"viridis","domain":[0,100]}}}},
{"width":338,"height":420,"mark":"rect","encoding":{"x":{"field":"x","type":"quantitative","axis":null,"scale":{"domain":[-169,169],"nice":false}},"x2":{"field":"x2"},"y":{"field":"y","type":"quantitative","axis":null,"scale":{"domain":[-210,210],"nice":false}},"y2":{"field":"y2"},"color":{"field":"v","type":"quantitative","legend":null,"scale":{"scheme":"viridis","domain":[0,100]}}}}
],"spacing":84}],"spacing":68},
{"width":47,"height":924,"layer":[
{"data":{"name":"bar"},"mark":{"type":"rect","strokeWidth":1},"encoding":{"y":{"field":"lo","type":"quantitative","scale":{"domain":[0,100],"nice":false},"axis":{"orient":"right","title":null,"values":[0,20,40,60,80,100],"grid":false,"domain":false,"tickSize":7,"tickWidth":1.67,"tickColor":"#000","labelColor":"#000","labelFontSize":20.8,"labelPadding":7,"labelFont":"DejaVu Sans","labelFlush":false,"labelOverlap":false}},"y2":{"field":"hi"},"color":{"field":"lo","type":"quantitative","legend":null,"scale":{"scheme":"viridis","domain":[0,100]}},"stroke":{"field":"lo","type":"quantitative","legend":null,"scale":{"scheme":"viridis","domain":[0,100]}}}},
{"data":{"name":"frame"},"mark":{"type":"rect","fillOpacity":0,"stroke":"#000","strokeWidth":1.67},"encoding":{"y":{"field":"lo","type":"quantitative"},"y2":{"field":"hi"}}}
]}],"spacing":46}
